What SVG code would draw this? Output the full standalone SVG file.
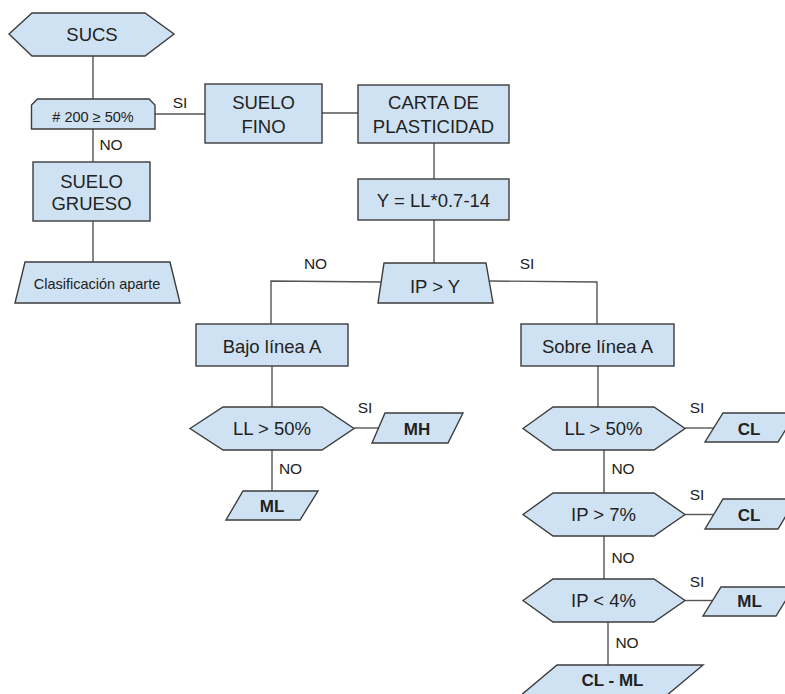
<svg xmlns="http://www.w3.org/2000/svg" width="785" height="694" viewBox="0 0 785 694">
<style>
.s{fill:#cfe2f3;stroke:#3d3d3d;stroke-width:1.4}
.c{fill:none;stroke:#555;stroke-width:1.4}
text{font-family:"Liberation Sans",Arial,sans-serif;fill:#222;text-anchor:middle}
.t{font-size:18.5px}
.b{font-size:17px;font-weight:bold}
.l{font-size:15.5px}
.m{font-size:14.5px}
</style>
<rect width="785" height="694" fill="#fff"/>
<g id="connectors">
<line class="c" x1="93" y1="56" x2="93" y2="99"/>
<line class="c" x1="155" y1="114" x2="205" y2="114"/>
<line class="c" x1="322" y1="113" x2="358" y2="113"/>
<line class="c" x1="93" y1="129" x2="93" y2="162"/>
<line class="c" x1="93" y1="221" x2="93" y2="262"/>
<line class="c" x1="434" y1="143" x2="434" y2="179"/>
<line class="c" x1="434" y1="220" x2="434" y2="263"/>
<polyline class="c" points="381,282 271,281 271,324"/>
<polyline class="c" points="490,281 597,282 597,324"/>
<line class="c" x1="272" y1="366" x2="272" y2="407"/>
<line class="c" x1="354" y1="428" x2="379" y2="428"/>
<line class="c" x1="272" y1="450" x2="272" y2="491"/>
<line class="c" x1="598" y1="366" x2="598" y2="407"/>
<line class="c" x1="685" y1="428" x2="714" y2="428"/>
<line class="c" x1="604" y1="450" x2="604" y2="493"/>
<line class="c" x1="685" y1="514.5" x2="714" y2="514.5"/>
<line class="c" x1="604" y1="536" x2="604" y2="579"/>
<line class="c" x1="685" y1="600.5" x2="712" y2="600.5"/>
<line class="c" x1="608" y1="622" x2="608" y2="665"/>
<text class="l" x="180" y="108">SI</text>
<text class="l" x="111" y="150">NO</text>
<text class="l" x="315.5" y="269">NO</text>
<text class="l" x="527" y="269">SI</text>
<text class="l" x="365" y="413">SI</text>
<text class="l" x="290.5" y="474">NO</text>
<text class="l" x="697" y="413">SI</text>
<text class="l" x="623" y="474">NO</text>
<text class="l" x="697" y="500">SI</text>
<text class="l" x="623" y="562.7">NO</text>
<text class="l" x="697" y="586.7">SI</text>
<text class="l" x="627" y="648">NO</text>
</g>
<g id="sucs">
<polygon class="s" points="9,34 32,13 145,13 174,34 145,56 32,56"/>
<text class="t" x="92" y="40.5">SUCS</text>
</g>
<g id="n200">
<polygon class="s" points="31.5,105 37.5,99 149,99 155,105 155,129 31.5,129"/>
<text class="m" x="93" y="121.5"># 200 ≥ 50%</text>
</g>
<g id="suelo-fino">
<rect class="s" x="205" y="84" width="117" height="59"/>
<text class="t" x="263.5" y="109">SUELO</text>
<text class="t" x="263.5" y="133">FINO</text>
</g>
<g id="carta">
<rect class="s" x="358" y="85" width="151" height="58"/>
<text class="t" x="433.5" y="109">CARTA DE</text>
<text class="t" x="433.5" y="133">PLASTICIDAD</text>
</g>
<g id="suelo-grueso">
<rect class="s" x="33" y="162" width="117" height="59"/>
<text class="t" x="91.5" y="188">SUELO</text>
<text class="t" x="91.5" y="210">GRUESO</text>
</g>
<g id="clasificacion">
<polygon class="s" points="25,262 170,262 180,303 15,303"/>
<text class="m" x="97" y="288.5">Clasificación aparte</text>
</g>
<g id="y-formula">
<rect class="s" x="358" y="179" width="151" height="41"/>
<text class="t" x="433.5" y="206.5">Y = LL*0.7-14</text>
</g>
<g id="ip-y">
<polygon class="s" points="384,263 486,263 493,303 378,303"/>
<text class="t" x="435" y="293">IP &gt; Y</text>
</g>
<g id="bajo">
<rect class="s" x="196" y="324" width="152" height="42"/>
<text class="t" x="272" y="352.5">Bajo línea A</text>
</g>
<g id="sobre">
<rect class="s" x="521" y="324" width="153" height="42"/>
<text class="t" x="597.5" y="352.5">Sobre línea A</text>
</g>
<g id="ll50-left">
<polygon class="s" points="190,428.5 223,407 322,407 354,428.5 322,450 223,450"/>
<text class="t" x="272" y="435">LL &gt; 50%</text>
</g>
<g id="mh">
<polygon class="s" points="385,413 463,413 448,443 372,443"/>
<text class="b" x="417" y="434.5">MH</text>
</g>
<g id="ml-left">
<polygon class="s" points="243,491 318,491 300,520 226,520"/>
<text class="b" x="272" y="511.5">ML</text>
</g>
<g id="ll50-right">
<polygon class="s" points="523,428.5 553,407 654,407 685,428.5 654,450 553,450"/>
<text class="t" x="603.5" y="435">LL &gt; 50%</text>
</g>
<g id="cl1">
<polygon class="s" points="723,413 796,413 778,442 705,442"/>
<text class="b" x="749" y="434.5">CL</text>
</g>
<g id="ip7">
<polygon class="s" points="523,514.5 553,493 654,493 685,514.5 654,536 553,536"/>
<text class="t" x="603.5" y="521">IP &gt; 7%</text>
</g>
<g id="cl2">
<polygon class="s" points="723,499 796,499 778,529 705,529"/>
<text class="b" x="749" y="521">CL</text>
</g>
<g id="ip4">
<polygon class="s" points="523,600.5 553,579 654,579 685,600.5 654,622 553,622"/>
<text class="t" x="603.5" y="607">IP &lt; 4%</text>
</g>
<g id="ml-right">
<polygon class="s" points="721,587 794,587 776,616 703,616"/>
<text class="b" x="749.5" y="607">ML</text>
</g>
<g id="cl-ml">
<polygon class="s" points="557,665 703,665 666,696 520,696"/>
<text class="b" x="612.5" y="686">CL - ML</text>
</g>
</svg>
